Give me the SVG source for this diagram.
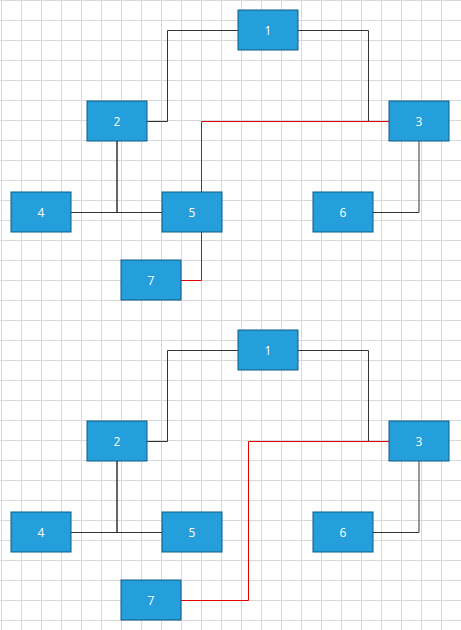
<svg xmlns="http://www.w3.org/2000/svg" width="461" height="630" viewBox="0 0 461 630">
<defs>
<pattern id="grid" x="1" y="0" width="20" height="20" patternUnits="userSpaceOnUse">
<path d="M0.5 0V20M0 0.5H20" fill="none" stroke="#d9d9d9" stroke-width="1"/>
</pattern>
</defs>
<style>
.n rect{fill:#259fdb;stroke:#0f5a85;stroke-width:1}
.n text{fill:#fff;font-family:"Open Sans","Noto Sans",sans-serif;font-size:12px;text-anchor:middle;dominant-baseline:central}
.c path{fill:none;stroke:#333;stroke-width:1}
.c path.r{stroke:#e00000}
</style>
<rect width="461" height="630" fill="#fff"/>
<rect width="461" height="630" fill="url(#grid)"/>
<g class="c" id="connectors">
<path d="M238 30.5H167.5V121.5H147"/>
<path d="M298 30.5H368.5V121.5H389"/>
<path d="M117 141V212.5H71"/>
<path d="M117 141V212.5H162"/>
<path d="M419 141V212.5H373"/>
<path class="r" d="M181 280.5H201.5V121.5H389"/>
<path d="M238 350.5H167.5V441.5H147"/>
<path d="M298 350.5H368.5V441.5H389"/>
<path d="M117 461V532.5H71"/>
<path d="M117 461V532.5H162"/>
<path d="M419 461V532.5H373"/>
<path class="r" d="M181 600.5H248.5V441.5H389"/>
</g>
<g class="n" id="a1"><rect x="238" y="10" width="60" height="40"/><text x="268" y="30">1</text></g>
<g class="n" id="a2"><rect x="87" y="101" width="60" height="40"/><text x="117" y="121">2</text></g>
<g class="n" id="a3"><rect x="389" y="101" width="60" height="40"/><text x="419" y="121">3</text></g>
<g class="n" id="a4"><rect x="11" y="192" width="60" height="40"/><text x="41" y="212">4</text></g>
<g class="n" id="a5"><rect x="162" y="192" width="60" height="40"/><text x="192" y="212">5</text></g>
<g class="n" id="a6"><rect x="313" y="192" width="60" height="40"/><text x="343" y="212">6</text></g>
<g class="n" id="a7"><rect x="121" y="260" width="60" height="40"/><text x="151" y="280">7</text></g>
<g class="n" id="b1"><rect x="238" y="330" width="60" height="40"/><text x="268" y="350">1</text></g>
<g class="n" id="b2"><rect x="87" y="421" width="60" height="40"/><text x="117" y="441">2</text></g>
<g class="n" id="b3"><rect x="389" y="421" width="60" height="40"/><text x="419" y="441">3</text></g>
<g class="n" id="b4"><rect x="11" y="512" width="60" height="40"/><text x="41" y="532">4</text></g>
<g class="n" id="b5"><rect x="162" y="512" width="60" height="40"/><text x="192" y="532">5</text></g>
<g class="n" id="b6"><rect x="313" y="512" width="60" height="40"/><text x="343" y="532">6</text></g>
<g class="n" id="b7"><rect x="121" y="580" width="60" height="40"/><text x="151" y="600">7</text></g>
</svg>
